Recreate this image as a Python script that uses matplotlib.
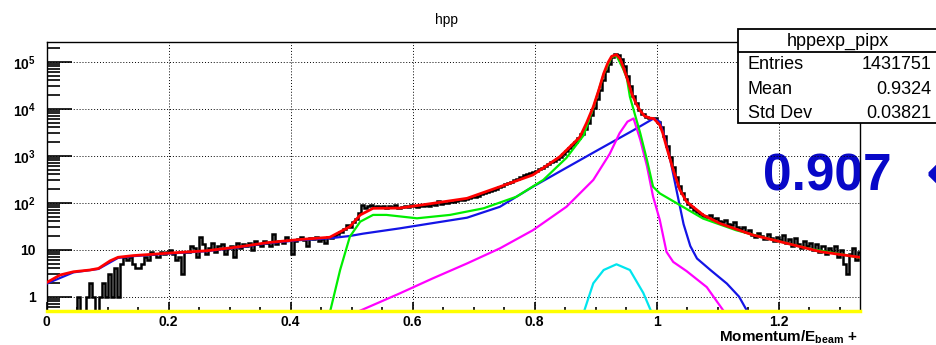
import numpy as np
import matplotlib
matplotlib.use("Agg")
import matplotlib.pyplot as plt
from matplotlib.patches import Rectangle
from matplotlib.lines import Line2D

plt.rcParams['font.family'] = ['Liberation Sans', 'DejaVu Sans']
plt.rcParams['mathtext.fontset'] = 'custom'
plt.rcParams['mathtext.rm'] = 'Liberation Sans'
plt.rcParams['mathtext.bf'] = 'Liberation Sans:bold'

# histogram: 267 bins of 0.005 from 0 to 1.335
bin_width = 0.005
counts = [
    0, 0, 0, 0, 0, 0, 0, 0, 0, 0,
    1, 0, 0, 1, 2, 1, 0, 1, 2, 1,
    3, 1, 4, 1, 5, 7, 6, 7, 5, 4,
    4, 5, 7, 6, 9, 8, 7, 9, 8, 9,
    10, 8, 6, 7, 3, 9, 9, 12, 11, 7,
    19, 13, 8, 11, 14, 9, 12, 13, 8, 11,
    12, 7, 14, 11, 13, 12, 14, 10, 15, 13,
    12, 15, 14, 12, 22, 13, 15, 14, 19, 16,
    8, 15, 17, 19, 16, 12, 18, 17, 19, 15,
    17, 14, 19, 18, 20, 22, 24, 28, 33, 30,
    38, 45, 60, 90, 78, 85, 88, 82, 86, 80,
    84, 78, 85, 82, 90, 79, 83, 86, 81, 88,
    84, 82, 87, 85, 90, 86, 92, 88, 110, 95,
    97, 100, 103, 105, 108, 112, 115, 120, 125, 130,
    135, 142, 150, 158, 165, 175, 188, 200, 212, 228,
    245, 262, 280, 300, 325, 350, 380, 410, 420, 450,
    480, 520, 560, 610, 660, 720, 790, 870, 960, 1080,
    1250, 1450, 1700, 2000, 2400, 2900, 3700, 5000, 7200, 10500,
    16000, 25000, 40000, 62000, 90000, 125000, 145000, 140000, 115000, 80000,
    50000, 30000, 19000, 13000, 9500, 7800, 6800, 6300, 6400, 6200,
    5200, 4000, 2600, 1600, 950, 580, 360, 230, 160, 120,
    95, 80, 70, 62, 58, 52, 50, 56, 44, 47,
    41, 38, 43, 36, 33, 38, 30, 27, 31, 24,
    26, 21, 19, 23, 20, 17, 22, 18, 15, 19,
    16, 21, 14, 17, 12, 18, 13, 11, 15, 12,
    14, 10, 13, 9, 12, 8, 11, 9, 12, 7,
    10, 5, 3, 8, 11, 6, 9,
]

# total fit (red)
red_x = [0.0, 0.022, 0.044, 0.071, 0.085, 0.104, 0.117, 0.142, 0.208, 0.262,
         0.317, 0.361, 0.415, 0.464, 0.497, 0.514, 0.535, 0.579, 0.633, 0.689,
         0.743, 0.797, 0.841, 0.874, 0.885, 0.896, 0.905, 0.913, 0.92, 0.926,
         0.934, 0.94, 0.945, 0.952, 0.959, 0.966, 0.973, 0.98, 0.989, 0.995,
         1.0, 1.005, 1.01, 1.016, 1.027, 1.038, 1.049, 1.076, 1.104, 1.158,
         1.213, 1.268, 1.333]
red_y = [2.0, 2.9, 3.4, 3.7, 4.0, 5.8, 6.9, 7.5, 8.6, 9.5,
         11.6, 14.1, 16.5, 18.4, 31, 55, 76, 77, 97, 124,
         219, 390, 950, 2500, 5000, 11000, 25000, 56000, 95000, 130000,
         142000, 115000, 78000, 42000, 21000, 13000, 9000, 7000, 6300, 6200,
         5300, 4500, 3000, 1550, 500, 187, 105, 55, 36, 20.5,
         13.7, 9.1, 6.9]

# green component
green_x = [0.464, 0.481, 0.497, 0.514, 0.535, 0.557, 0.607, 0.661, 0.716, 0.770,
           0.814, 0.852, 0.880, 0.896, 0.913, 0.926, 0.934, 0.945, 0.951, 0.956,
           0.973, 0.984, 0.994, 1.005, 1.038, 1.076, 1.13, 1.18, 1.25, 1.333]
green_y = [0.45, 3.7, 19, 39.5, 55, 55, 46.6, 55, 76, 134,
           305, 900, 2700, 10500, 54000, 125000, 135000, 70000, 45000, 18000,
           3000, 810, 219, 158, 89, 46, 26, 17.5, 10.5, 6.8]

# blue component
blue_x = [0.0, 0.044, 0.085, 0.117, 0.142, 0.208, 0.262, 0.317, 0.361, 0.415,
          0.464, 0.497, 0.519, 0.579, 0.628, 0.689, 0.743, 0.797, 0.852, 0.907,
          0.962, 0.995, 1.005, 1.011, 1.022, 1.033, 1.044, 1.055, 1.066, 1.088,
          1.115, 1.135, 1.15]
blue_y = [1.9, 3.3, 3.9, 6.7, 7.3, 8.4, 9.3, 11.3, 13.7, 16,
          17.5, 19.6, 22, 28.5, 36, 48, 82, 219, 555, 1400,
          3500, 6200, 5300, 3000, 850, 170, 35, 12, 6.5, 3.7,
          1.9, 1.0, 0.45]

# magenta component
mag_x = [0.510, 0.579, 0.633, 0.689, 0.743, 0.797, 0.852, 0.896, 0.923, 0.939,
         0.952, 0.962, 0.973, 0.984, 0.994, 1.005, 1.016, 1.027, 1.049, 1.082,
         1.112]
mag_y = [0.48, 1.18, 2.46, 5.1, 10.7, 26, 82, 305, 1100, 3000,
         5300, 6200, 2200, 600, 135, 43, 9, 5.5, 3.5, 1.6,
         0.45]

# cyan component
cyan_x = [0.880, 0.896, 0.913, 0.934, 0.956, 0.978, 0.992]
cyan_y = [0.45, 1.93, 3.7, 4.9, 3.7, 1.2, 0.45]

stats_name = "hppexp_pipx"
stats_rows = [("Entries", "1431751"), ("Mean", "0.9324"), ("Std Dev", "0.03821")]
big_label = "0.907"
big_arrow = "\u2190"

fig = plt.figure(figsize=(9.37, 3.45), dpi=100)
ax = fig.add_axes([0.0498, 0.0986, 0.8681, 0.7797])
ax.patch.set_alpha(0)

edges = np.arange(len(counts) + 1) * bin_width
vals = np.array(counts, dtype=float)
vals[vals <= 0] = 0.2
ax.stairs(vals, edges, baseline=None, color='black', lw=1.8, zorder=2)

ax.plot(blue_x, blue_y, color='#1414e6', lw=1.6, zorder=3)
ax.plot(mag_x, mag_y, color='#ff00ff', lw=1.6, zorder=3)
ax.plot(cyan_x, cyan_y, color='#00e5ee', lw=1.6, zorder=3)
ax.plot(green_x, green_y, color='#00ee00', lw=1.6, zorder=3)
ax.plot(red_x, red_y, color='#ff0000', lw=2.0, zorder=4)

ax.set_yscale('log')

ax.set_xticks([0, 0.2, 0.4, 0.6, 0.8, 1.0, 1.2])
ax.set_xticklabels(['0', '0.2', '0.4', '0.6', '0.8', '1', '1.2'], fontweight='bold', fontsize=10)
ax.set_xticks(np.arange(0, 1.34, 0.05), minor=True)
ax.set_yticks([1, 10, 1e2, 1e3, 1e4, 1e5])
ax.set_yticklabels(['1', '10', r'$\mathbf{10^{2}}$', r'$\mathbf{10^{3}}$',
                    r'$\mathbf{10^{4}}$', r'$\mathbf{10^{5}}$'], fontweight='bold', fontsize=10)
minor_y = [m * 10.0 ** e for e in range(-1, 6) for m in range(2, 10)]
ax.set_yticks(minor_y, minor=True)
ax.yaxis.set_minor_formatter(plt.NullFormatter())

# limits after the ticks, otherwise set_yticks widens them
ax.set_xlim(0, 1.3333)
ax.set_ylim(0.497, 2.63e5)

ax.tick_params(axis='y', which='major', direction='in', length=18, width=1.2, pad=8)
ax.tick_params(axis='y', which='minor', direction='in', length=9, width=1.2)
ax.tick_params(axis='x', which='major', direction='in', length=6.5, width=1.2, pad=3)
ax.tick_params(axis='x', which='minor', direction='in', length=3, width=1.2)

ax.grid(True, which='major', color='black', linestyle=(0, (1, 2)), linewidth=0.7)
for s in ax.spines.values():
    s.set_linewidth(1.0)

# yellow line along the bottom
ax.add_line(Line2D([0, 1], [0, 0], transform=ax.transAxes, color='#ffff00',
                   lw=2.5, clip_on=False, zorder=5))

fig.text(0.477, 0.942, "hpp", ha='center', va='center', fontsize=10)
fig.text(0.915, 0.022, r"Momentum/E$_{\mathbf{beam}}$ +", ha='right', va='center',
         fontsize=11, fontweight='bold')

# big annotation under the axes content
fig.text(0.814, 0.449, big_label, color='#0808c8', fontsize=37, fontweight='bold',
         ha='left', va='baseline', zorder=-1)
fig.text(0.988, 0.449, big_arrow, color='#0808c8', fontsize=37, fontweight='bold',
         family='DejaVu Sans', ha='left', va='baseline', zorder=-1)

# stats box
bx0, by0, by1 = 0.7876, 0.6435, 0.916
fig.patches.append(Rectangle((bx0, by0), 1.2 - bx0, by1 - by0, transform=fig.transFigure,
                             facecolor='white', edgecolor='black', lw=1.3, zorder=10))
fig.lines.append(Line2D([bx0, 1.0], [0.849, 0.849], transform=fig.transFigure,
                        color='black', lw=1.3, zorder=11))
fig.text(0.894, 0.881, stats_name, ha='center', va='center', fontsize=13, zorder=12)
for i, (k, v) in enumerate(stats_rows):
    yy = 0.812 - i * 0.070
    fig.text(0.798, yy, k, ha='left', va='center', fontsize=13, zorder=12)
    fig.text(0.9943, yy, v, ha='right', va='center', fontsize=13, zorder=12)

fig.savefig('out.png', dpi=100)
